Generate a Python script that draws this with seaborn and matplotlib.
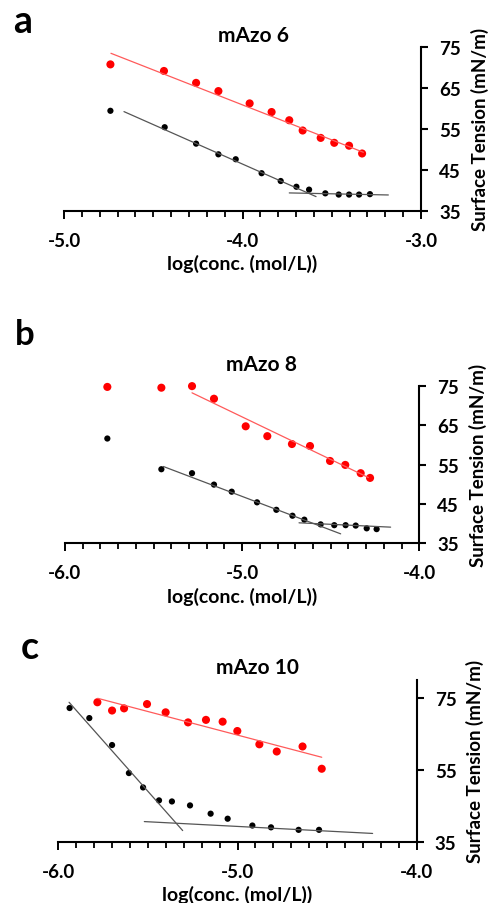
import numpy as np
import matplotlib
matplotlib.use("Agg")
import matplotlib.pyplot as plt
import seaborn as sns

sns.set_theme(style="ticks")
plt.rcParams['font.family'] = ['Lato', 'DejaVu Sans']

# panel a - mAzo 6
a_red_x = [-4.74, -4.44, -4.26, -4.135, -3.96, -3.837, -3.738, -3.663, -3.562, -3.486, -3.403, -3.33]
a_red_y = [70.7, 69.1, 66.2, 64.2, 61.2, 59.1, 57.1, 54.6, 52.8, 51.6, 50.9, 49.0]
a_blk_x = [-4.74, -4.436, -4.26, -4.135, -4.038, -3.893, -3.786, -3.698, -3.627, -3.536, -3.461, -3.403, -3.347, -3.286]
a_blk_y = [59.4, 55.4, 51.4, 48.8, 47.6, 44.2, 42.3, 40.9, 40.2, 39.3, 39.0, 39.0, 39.0, 39.1]
a_fit_red = ([-4.737, -3.323], [73.4, 49.3])
a_fit_blk = [([-4.664, -3.588], [59.2, 38.5]), ([-3.738, -3.183], [39.4, 38.9])]

# panel b - mAzo 8
b_red_x = [-5.761, -5.456, -5.283, -5.159, -4.98, -4.858, -4.719, -4.617, -4.504, -4.418, -4.331, -4.278]
b_red_y = [74.7, 74.5, 74.9, 71.7, 64.7, 62.2, 60.2, 59.7, 55.9, 54.9, 52.8, 51.6]
b_blk_x = [-5.761, -5.456, -5.283, -5.159, -5.059, -4.916, -4.807, -4.716, -4.649, -4.557, -4.48, -4.416, -4.359, -4.297, -4.241]
b_blk_y = [61.6, 53.8, 52.8, 49.9, 48.1, 45.4, 43.5, 42.0, 41.0, 39.8, 39.6, 39.6, 39.5, 38.8, 38.6]
b_fit_red = ([-5.283, -4.288], [73.2, 51.7])
b_fit_blk = [([-5.445, -4.444], [54.5, 37.4]), ([-4.679, -4.162], [40.2, 39.1])]

# panel c - mAzo 10
c_red_x = [-5.782, -5.7, -5.633, -5.505, -5.401, -5.276, -5.176, -5.083, -5.001, -4.878, -4.781, -4.637, -4.53]
c_red_y = [73.8, 71.5, 72.1, 73.3, 71.0, 68.2, 68.9, 68.4, 65.8, 62.1, 60.1, 61.5, 55.3]
c_blk_x = [-5.937, -5.827, -5.7, -5.606, -5.527, -5.438, -5.366, -5.265, -5.15, -5.055, -4.917, -4.813, -4.659, -4.545]
c_blk_y = [72.2, 69.4, 61.9, 54.1, 50.1, 46.5, 46.2, 45.1, 42.8, 41.4, 39.5, 39.0, 38.3, 38.3]
c_fit_red = ([-5.78, -4.53], [74.9, 58.5])
c_fit_blk = [([-5.94, -5.306], [73.8, 38.1]), ([-5.52, -4.246], [40.6, 37.3])]

panels = [
    dict(letter="a", title="mAzo 6", rx=a_red_x, ry=a_red_y, bx=a_blk_x, by=a_blk_y,
         fr=a_fit_red, fb=a_fit_blk, xlim=(-5.0, -3.0), ylim=(35, 75), ystep=10,
         rect=[0.1293, 0.7655, 0.7212, 0.1817], tx=0.532, tpad=4, lpos=(0.026, 0.9635), lsize=27),
    dict(letter="b", title="mAzo 8", rx=b_red_x, ry=b_red_y, bx=b_blk_x, by=b_blk_y,
         fr=b_fit_red, fb=b_fit_blk, xlim=(-6.0, -4.0), ylim=(35, 75), ystep=10,
         rect=[0.1313, 0.3979, 0.7158, 0.1743], tx=0.556, tpad=11, lpos=(0.030, 0.618), lsize=25),
    dict(letter="c", title="mAzo 10", rx=c_red_x, ry=c_red_y, bx=c_blk_x, by=c_blk_y,
         fr=c_fit_red, fb=c_fit_blk, xlim=(-6.0, -4.0), ylim=(35, 80), ystep=20,
         rect=[0.1178, 0.0678, 0.724, 0.1789], tx=0.557, tpad=5, lpos=(0.042, 0.271), lsize=27),
]

fig = plt.figure(figsize=(4.95, 9.04), dpi=100)

for p in panels:
    ax = fig.add_axes(p["rect"])
    # fit lines
    ax.plot(*p["fr"], color="#ff5a5a", lw=0.9)
    for fx, fy in p["fb"]:
        ax.plot(fx, fy, color="#555555", lw=0.9)
    sns.scatterplot(x=p["rx"], y=p["ry"], ax=ax, color="#ff0000", s=34, edgecolor="none", clip_on=False)
    sns.scatterplot(x=p["bx"], y=p["by"], ax=ax, color="black", s=20, edgecolor="none", clip_on=False)

    ax.set_xlim(*p["xlim"])
    ax.set_ylim(*p["ylim"])
    ax.set_xticks(np.arange(p["xlim"][0], p["xlim"][1] + 0.01, 1.0))
    ax.set_xticks(np.arange(p["xlim"][0], p["xlim"][1] + 0.01, 0.1), minor=True)
    ax.set_yticks(np.arange(35, 76, p["ystep"]))
    ax.set_xticklabels([f"{v:.1f}" for v in ax.get_xticks()], fontweight="bold")
    ax.set_yticklabels([f"{v:.0f}" for v in ax.get_yticks()], fontweight="bold")

    ax.spines["top"].set_visible(False)
    ax.spines["left"].set_visible(False)
    for s in ["bottom", "right"]:
        ax.spines[s].set_color("black")
        ax.spines[s].set_linewidth(1.5)
    ax.yaxis.tick_right()
    ax.yaxis.set_label_position("right")
    ax.tick_params(axis="x", which="major", length=6, width=1.4, color="black")
    ax.tick_params(axis="x", which="minor", length=4.5, width=1.3, color="black")
    ax.tick_params(axis="x", pad=9, labelsize=13.5, labelcolor="black")
    ax.tick_params(axis="y", which="major", length=5, width=1.5, color="black")
    ax.tick_params(axis="y", pad=8, labelsize=13.5, labelcolor="black")

    ax.set_xlabel("log(conc. (mol/L))", fontsize=14, fontweight="bold", labelpad=4, color="black")
    ax.set_ylabel("Surface Tension (mN/m)", fontsize=13.5, fontweight="bold", labelpad=7, color="black")
    ax.set_title(p["title"], x=p["tx"], pad=p["tpad"], fontsize=15, fontweight="bold", color="black")
    fig.text(p["lpos"][0], p["lpos"][1], p["letter"], fontsize=p["lsize"], fontweight="bold", color="black")

fig.savefig("out.png", dpi=100, facecolor="white")
